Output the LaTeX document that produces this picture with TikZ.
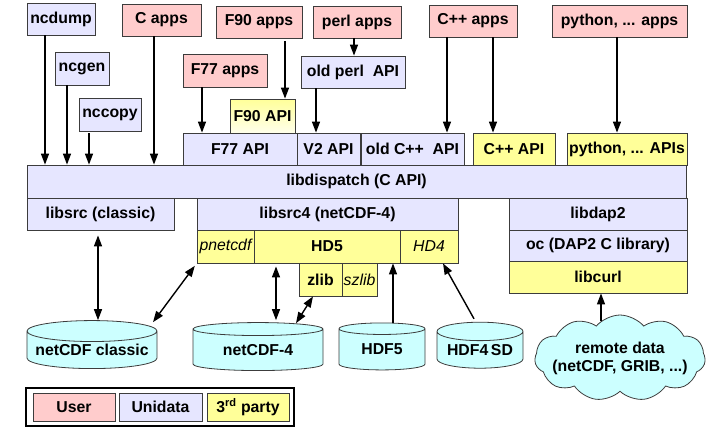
\documentclass[tikz,border=0pt]{standalone}
\usepackage{fontspec}
\setmainfont{Liberation Sans}
\usetikzlibrary{shapes.geometric,shapes.symbols,arrows.meta}

\definecolor{boxline}{HTML}{3C3C3C}
\definecolor{userpink}{HTML}{FFCCCC}
\definecolor{unipurple}{HTML}{E6E6FF}
\definecolor{thirdyellow}{HTML}{FFFF99}
\definecolor{diskcyan}{HTML}{CCFFFF}

\begin{document}
\begin{tikzpicture}[x=1bp, y=-1bp, >={Triangle[length=11bp,width=8bp]},
    font=\fontsize{15.8bp}{18bp}\selectfont\bfseries]

\useasboundingbox (0,0) rectangle (719,431);

% common box style
\tikzstyle{box} = [
    draw = boxline,
    rectangle,
    line width = 0.8bp,
    inner sep = 0pt,
    minimum height = 32bp
]

% user style
\tikzstyle{us} = [box, fill = userpink]

% unidata style
\tikzstyle{ud} = [box, fill = unipurple]

% third party style
\tikzstyle{tp} = [box, fill = thirdyellow]

% italic labels
\tikzstyle{it} = [font = \fontsize{15.8bp}{18bp}\selectfont\mdseries\itshape]

% disk style
\tikzstyle{disk} = [
    draw = boxline,
    fill = diskcyan,
    cylinder,
    shape border rotate = 90,
    line width = 0.8bp,
    inner sep = 0pt
]

% link style
\tikzstyle{link} = [line width = 1.4bp]

% Place the nodes.
\node [ud, minimum width=68bp] (ncdump) at (61,19) {ncdump};
\node [ud, minimum width=54bp, minimum height=33bp] (ncgen) at (82,68.5) {ncgen};
\node [ud, minimum width=62bp, minimum height=33bp] (nccopy) at (110,114.5) {nccopy};
\node [us, minimum width=79bp] (c-apps) at (161.5,20) {C apps};
\node [us, minimum width=86bp] (f90-apps) at (259,22) {F90 apps};
\node [us, minimum width=88bp] (perl-apps) at (357,22) {perl apps};
\node [us, minimum width=88bp] (cxx-apps) at (473,21) {C++ apps};
\node [us, minimum width=135bp] (py-apps) at (619.5,21) {python, ... apps};
\node [us, minimum width=84bp, minimum height=33bp] (f77-apps) at (225,70.5) {F77 apps};
\node [ud, minimum width=104bp] (perl-api) at (353,72) {old perl\ \ API};
\node [box, top color=thirdyellow, bottom color=thirdyellow!20,
    minimum width=65bp, minimum height=34bp] (f90-api) at (262.5,116) {F90 API};

\node [ud, minimum width=114bp] (f77-api) at (240,149) {F77 API};
\node [ud, minimum width=63bp] (v2-api) at (328.5,149) {V2 API};
\node [ud, minimum width=103bp] (cxx-old-api) at (412.5,149) {old C++\ \ API};
\node [tp, minimum width=82bp] (cxx-api) at (514,149) {C++ API};
\node [tp, minimum width=120bp] (py-api) at (627,149) {python, ... APIs};

\node [ud, minimum width=659bp, minimum height=33bp] (dispatch) at (356.5,181.5) {libdispatch (C API)};

\node [ud, minimum width=147bp] (libsrc) at (100.5,214) {libsrc (classic)};
\node [ud, minimum width=261bp] (libsrc4) at (327.5,214) {libsrc4 (netCDF-4)};
\node [tp, it, minimum width=57bp, minimum height=33bp] (pnetcdf) at (225.5,246.5) {pnetcdf};
\node [tp, minimum width=146bp, minimum height=33bp] (hd5) at (327,246.5) {HD5};
\node [tp, it, minimum width=58bp, minimum height=33bp] (hd4) at (429,246.5) {HD4};
\node [tp, minimum width=43bp, minimum height=33bp] (zlib) at (320.5,279.5) {zlib};
\node [tp, it, minimum width=35bp, minimum height=33bp] (szlib) at (359.5,279.5) {szlib};

\node [ud, minimum width=178bp] (libdap2) at (598,214) {libdap2};
\node [ud, minimum width=178bp, minimum height=31bp] (oc) at (598,245.5) {oc (DAP2 C library)};
\node [tp, minimum width=178bp] (libcurl) at (598,277) {libcurl};

% Place the data files.
\node [disk, minimum width=130bp, minimum height=48bp, aspect=0.185] (classic) at (92,350) {netCDF classic};
\node [disk, minimum width=130bp, minimum height=48bp, aspect=0.185] (nc4) at (258,350) {netCDF-4};
\node [disk, minimum width=86bp, minimum height=47bp, aspect=0.28] (hdf5) at (382,349.5) {HDF5};
\node [disk, minimum width=86bp, minimum height=46bp, aspect=0.28] (hdf4) at (480,350) {HDF4\,SD};
\node [cloud, draw=boxline, fill=diskcyan, line width=0.8bp, cloud puffs=11,
    cloud puff arc=100, cloud ignores aspect, inner xsep=-7bp, inner ysep=0bp,
    align=center, minimum width=170bp, minimum height=86bp] (remote) at (620,358)
    {remote data\\(netCDF, GRIB, ...)};

% Connect the nodes.
\draw [link, ->] ([xshift=-16bp]ncdump.south) -- ([xshift=-16bp]ncdump.south |- dispatch.north);
\draw [link, ->] ([xshift=-15bp]ncgen.south) -- ([xshift=-15bp]ncgen.south |- dispatch.north);
\draw [link, ->, shorten <=2bp] ([xshift=-21bp]nccopy.south) -- ([xshift=-21bp]nccopy.south |- dispatch.north);
\draw [link, ->] ([xshift=-7.5bp]c-apps.south) -- ([xshift=-7.5bp]c-apps.south |- dispatch.north);
\draw [link, ->, shorten <=3bp] ([xshift=26bp]f90-apps.south) -- ([xshift=26bp]f90-apps.south |- f90-api.north);
\draw [link, ->] ([xshift=-23bp]f77-apps.south) -- ([xshift=-23bp]f77-apps.south |- f77-api.north);
\draw [link, ->] ([xshift=-3bp]perl-apps.south) -- ([xshift=-3bp]perl-apps.south |- perl-api.north);
\draw [link, ->] ([xshift=-37bp]perl-api.south) -- ([xshift=-37bp]perl-api.south |- v2-api.north);
\draw [link, ->] ([xshift=-26bp]cxx-apps.south) -- ([xshift=-26bp]cxx-apps.south |- cxx-old-api.north);
\draw [link, ->] ([xshift=20bp]cxx-apps.south) -- ([xshift=20bp]cxx-apps.south |- cxx-api.north);
\draw [link, ->] ([xshift=-2.5bp]py-apps.south) -- ([xshift=-2.5bp]py-apps.south |- py-api.north);

\draw [link, <->, shorten <=5bp] ([xshift=-2.5bp]libsrc.south) -- ([xshift=-2.5bp]libsrc.south |- classic.north);
\draw [link, <->, shorten <=3bp] (pnetcdf.south west) -- ([xshift=61bp,yshift=-2bp]classic.north);
\draw [link, <->, shorten <=3bp, shorten >=2bp] ([xshift=-51bp]hd5.south) -- ([xshift=-51bp]hd5.south |- nc4.north);
\draw [link, <->] ([xshift=-7.5bp]zlib.south) -- ([xshift=38bp,yshift=-1bp]nc4.north);
\draw [link, ->] ([xshift=11bp]hdf5.north) -- ([xshift=11bp]hdf5.north |- hd5.south);
\draw [link, ->] ([xshift=-6bp,yshift=3bp]hdf4.north) -- ([xshift=14bp]hd4.south);
\draw [link, ->] ([xshift=-19bp,yshift=-6bp]remote.north) -- ([xshift=-19bp]remote.north |- libcurl.south);

% Draw the legend.
\node [draw=black, line width=1.5bp, minimum width=268bp, minimum height=38bp] (legend) at (160,407) {};
\node [us, minimum width=82bp, minimum height=28bp] (key-user) at (74,407) {User};
\node [ud, minimum width=83bp, minimum height=28bp] (key-unidata) at (160.5,407) {Unidata};
\node [tp, minimum width=82bp, minimum height=28bp] (key-third) at (248,407) {3\textsuperscript{rd} party};

\end{tikzpicture}
\end{document}
